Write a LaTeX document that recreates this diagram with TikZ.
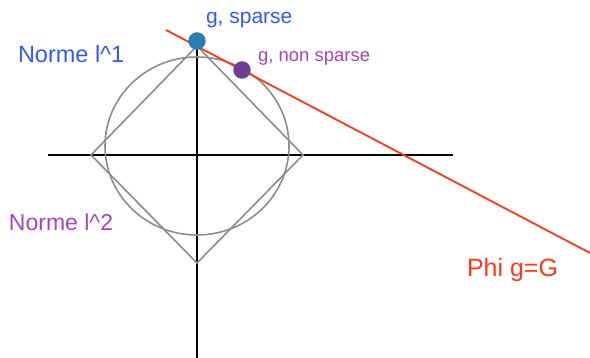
\documentclass[tikz,border=0pt]{standalone}
\usepackage{fontspec}
\setmainfont{Liberation Sans}
\definecolor{dotblue}{RGB}{41,125,180}
\definecolor{dotpurple}{RGB}{110,62,145}
\definecolor{txtblue}{RGB}{50,90,245}
\definecolor{txtpurple}{RGB}{165,70,180}
\definecolor{linered}{RGB}{255,55,25}
\definecolor{shapegray}{RGB}{140,140,140}
\begin{document}
\begin{tikzpicture}[x=1pt,y=-1pt,
  axis/.style={black,line width=1.8pt},
  shapeline/.style={shapegray,line width=1.6pt},
  lbl/.style={anchor=base west,inner sep=0pt,outer sep=0pt},
  dotstyle/.style={circle,inner sep=0pt,minimum size=17.5pt}]
\useasboundingbox (0,0) rectangle (590,358);
% axes
\coordinate (hl) at (48,155);
\coordinate (hr) at (453,155);
\coordinate (vt) at (197,45);
\coordinate (vb) at (197,358);
\draw[axis] (hl) -- (hr);
\draw[axis] (vt) -- (vb);
% l2 ball
\draw[shapeline] (197,146) ellipse [x radius=92, y radius=89];
% l1 ball
\coordinate (dt) at (197,46);
\coordinate (dr) at (303,155);
\coordinate (db) at (197,263);
\coordinate (dl) at (91,155);
\draw[shapeline,line join=miter] (dt) -- (dr) -- (db) -- (dl) -- cycle;
% red line
\coordinate (ra) at (166,30);
\coordinate (rb) at (590,253);
\draw[linered,line width=1.8pt] (ra) -- (rb);
% dots
\node[dotstyle,fill=dotblue] (sp) at (197,41) {};
\node[dotstyle,fill=dotpurple] (nsp) at (242,70) {};
% labels
\node[lbl,text=txtblue,font=\fontsize{21}{24}\selectfont] (lsp) at (206,24) {g, sparse};
\node[lbl,text=txtpurple,font=\fontsize{18.5}{22}\selectfont] (lnsp) at (258,62) {g, non sparse};
\node[lbl,text=txtblue,font=\fontsize{23.5}{26}\selectfont] (n1) at (18,63) {Norme l\textasciicircum 1};
\node[lbl,text=txtpurple,font=\fontsize{23}{26}\selectfont] (n2) at (9,231) {Norme l\textasciicircum 2};
\node[lbl,text=linered,font=\fontsize{25}{28}\selectfont] (phi) at (467,277) {Phi g=G};
\end{tikzpicture}
\end{document}
